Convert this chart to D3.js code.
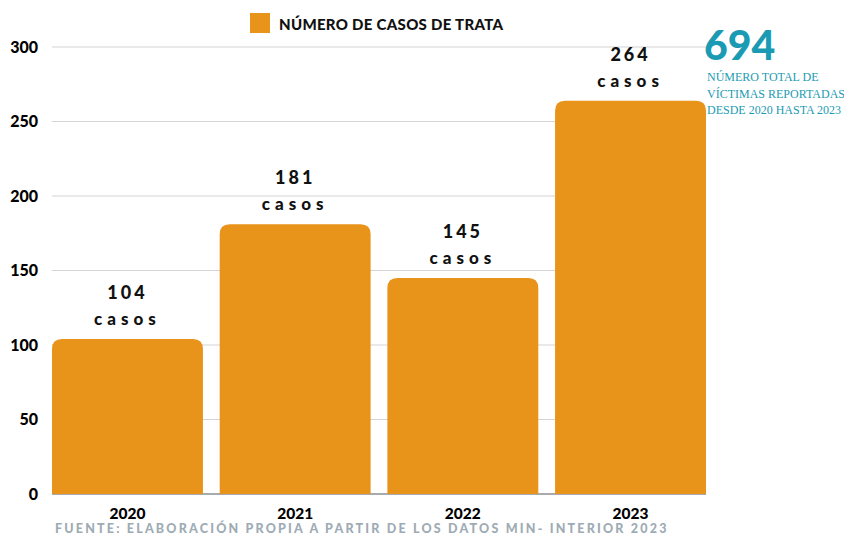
<!DOCTYPE html>
<html>
<head>
<meta charset="utf-8">
<script src="https://cdn.jsdelivr.net/npm/d3@7"></script>
<style>
  body { margin: 0; background: #fff; }
  svg { display: block; }
</style>
</head>
<body>
<svg id="chart" width="844" height="536"></svg>
<script>
var years = ["2020", "2021", "2022", "2023"];
var cases = [104, 181, 145, 264];
var yTicks = [0, 50, 100, 150, 200, 250, 300];
var legendLabel = "NÚMERO DE CASOS DE TRATA";
var totalValue = "694";
var totalLines = ["NÚMERO TOTAL DE", "VÍCTIMAS REPORTADAS", "DESDE 2020 HASTA 2023"];
var sourceText = "FUENTE: ELABORACIÓN PROPIA A PARTIR DE LOS DATOS MIN- INTERIOR 2023";

var orange = "#e8931a";
var teal = "#1b9bb3";
var svg = d3.select("#chart");

var x = d3.scaleBand().domain(years).range([52, 706]).paddingInner(0.1).paddingOuter(0);
var y = d3.scaleLinear().domain([0, 300]).range([494, 47]);

// grid lines
svg.append("g")
    .selectAll("line")
    .data(yTicks)
    .enter().append("line")
    .attr("x1", 52)
    .attr("x2", 706)
    .attr("y1", function(d) { return y(d); })
    .attr("y2", function(d) { return y(d); })
    .attr("stroke", function(d) { return d === 0 ? "#8a8f96" : "#d4d4d4"; })
    .attr("stroke-width", function(d) { return d === 0 ? 1.5 : 1.2; });

// y labels
var yAxis = d3.axisLeft(y).tickValues(yTicks).tickSize(0).tickPadding(0);
var yg = svg.append("g")
    .attr("transform", "translate(38,0)")
    .call(yAxis);
yg.select(".domain").remove();
yg.selectAll("text")
    .attr("font-family", "Lato, 'DejaVu Sans', sans-serif")
    .attr("font-weight", 900)
    .attr("font-size", 16)
    .attr("fill", "#000");

// bars with rounded tops
var r = 10;
svg.append("g")
    .selectAll("path")
    .data(years)
    .enter().append("path")
    .attr("fill", orange)
    .attr("d", function(d, i) {
        var x0 = x(d), x1 = x(d) + x.bandwidth();
        var top = y(cases[i]), bot = y(0);
        return "M" + x0 + "," + bot +
            "V" + (top + r) +
            "Q" + x0 + "," + top + " " + (x0 + r) + "," + top +
            "H" + (x1 - r) +
            "Q" + x1 + "," + top + " " + x1 + "," + (top + r) +
            "V" + bot + "Z";
    });

// value labels
var labels = svg.append("g")
    .selectAll("g")
    .data(years)
    .enter().append("g")
    .attr("transform", function(d, i) {
        return "translate(" + (x(d) + x.bandwidth() / 2) + "," + y(cases[i]) + ")";
    });
labels.append("text")
    .attr("y", -40)
    .attr("text-anchor", "middle")
    .attr("font-family", "Lato, 'DejaVu Sans', sans-serif")
    .attr("font-weight", 900)
    .attr("font-size", 18)
    .attr("letter-spacing", 3)
    .attr("fill", "#111")
    .text(function(d, i) { return cases[i]; });
labels.append("text")
    .attr("y", -14)
    .attr("text-anchor", "middle")
    .attr("font-family", "Lato, 'DejaVu Sans', sans-serif")
    .attr("font-weight", 900)
    .attr("font-size", 17)
    .attr("letter-spacing", 5)
    .attr("fill", "#111")
    .text("casos");

// x labels
var xAxis = d3.axisBottom(x).tickSize(0).tickPadding(0);
var xg = svg.append("g")
    .attr("transform", "translate(0,508)")
    .call(xAxis);
xg.select(".domain").remove();
xg.selectAll("text")
    .attr("dy", "0.7em")
    .attr("font-family", "Lato, 'DejaVu Sans', sans-serif")
    .attr("font-weight", 900)
    .attr("font-size", 15.5)
    .attr("fill", "#000");

// legend
svg.append("rect")
    .attr("x", 250)
    .attr("y", 13)
    .attr("width", 20)
    .attr("height", 20)
    .attr("fill", orange);
svg.append("text")
    .attr("x", 279)
    .attr("y", 30)
    .attr("font-family", "Lato, 'DejaVu Sans', sans-serif")
    .attr("font-weight", 900)
    .attr("font-size", 15)
    .attr("letter-spacing", 0.3)
    .attr("fill", "#111")
    .text(legendLabel);

// total annotation
svg.append("text")
    .attr("x", 704)
    .attr("y", 60)
    .attr("font-family", "Lato, 'DejaVu Sans', sans-serif")
    .attr("font-weight", 900)
    .attr("font-size", 41)
    .attr("fill", teal)
    .text(totalValue);
svg.append("g")
    .selectAll("text")
    .data(totalLines)
    .enter().append("text")
    .attr("x", 707)
    .attr("y", function(d, i) { return 81 + i * 16.5; })
    .attr("font-family", "'Liberation Serif', 'DejaVu Serif', serif")
    .attr("font-size", 12)
    .attr("fill", teal)
    .text(function(d) { return d; });

// source
svg.append("text")
    .attr("x", 55)
    .attr("y", 533)
    .attr("font-family", "Lato, 'DejaVu Sans', sans-serif")
    .attr("font-weight", 900)
    .attr("font-size", 12.5)
    .attr("letter-spacing", 2.2)
    .attr("fill", "#9eabb4")
    .text(sourceText);
</script>
</body>
</html>
